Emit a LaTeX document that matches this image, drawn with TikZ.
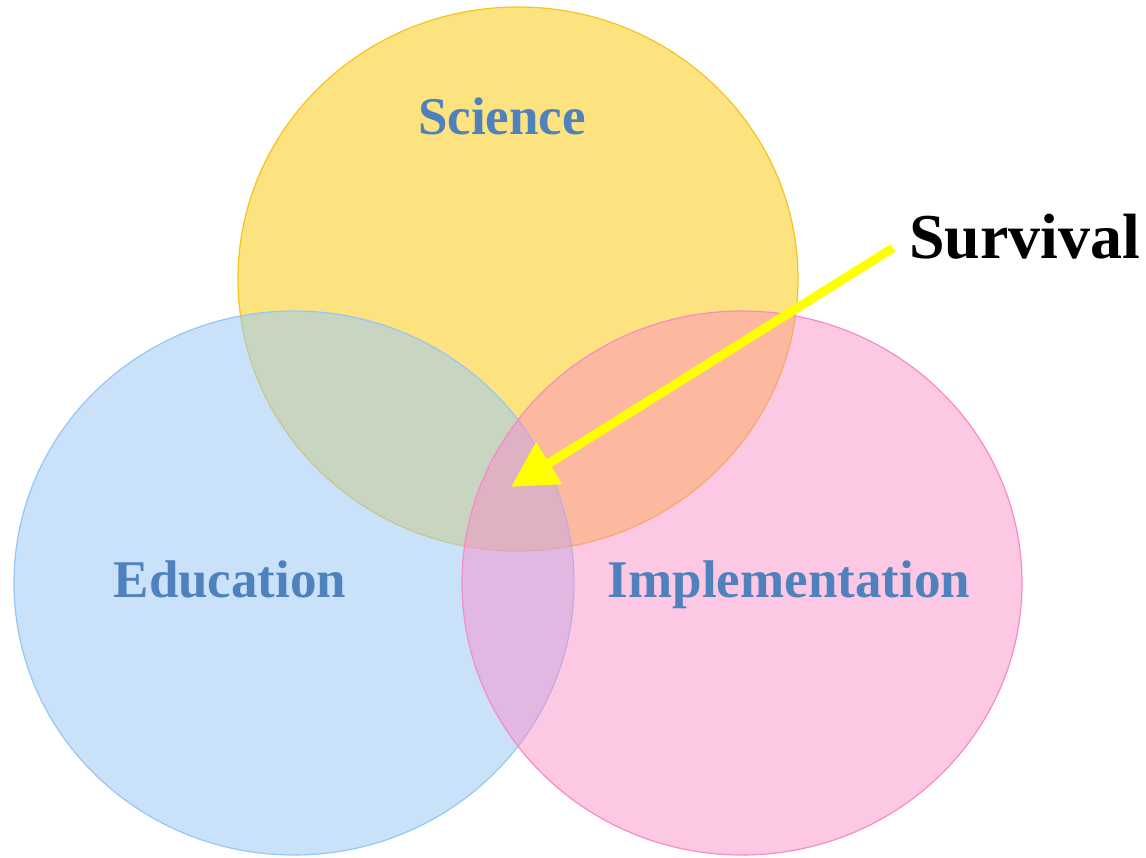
\documentclass[tikz,border=0pt]{standalone}
\usepackage{fontspec}
\setmainfont{Liberation Serif}
\usetikzlibrary{arrows.meta}
\definecolor{scifill}{RGB}{253,227,127}
\definecolor{sciline}{RGB}{245,196,30}
\definecolor{edufill}{RGB}{157,202,246}
\definecolor{eduline}{RGB}{150,198,245}
\definecolor{impfill}{RGB}{251,138,198}
\definecolor{impline}{RGB}{245,140,200}
\definecolor{labelblue}{RGB}{79,129,189}
\definecolor{arrowyellow}{RGB}{255,255,0}
\begin{document}
\begin{tikzpicture}[x=1pt,y=-1pt,
  setlabel/.style={font=\bfseries\fontsize{53}{60}\selectfont, text=labelblue, anchor=base},
  pointer/.style={draw=arrowyellow, line width=9pt,
    -{Triangle[length=45pt,width=47pt]}}]
  \useasboundingbox (0,0) rectangle (1146,857);
  % the three sets
  \fill[scifill] (518,279) ellipse [x radius=280, y radius=272];
  \draw[sciline, line width=1.2pt] (518,279) ellipse [x radius=280, y radius=272];
  \fill[edufill, fill opacity=0.55] (294,583) ellipse [x radius=280, y radius=272];
  \draw[eduline, line width=1.2pt] (294,583) ellipse [x radius=280, y radius=272];
  \fill[impfill, fill opacity=0.47] (742,583) ellipse [x radius=280, y radius=272];
  \draw[impline, line width=1.2pt] (742,583) ellipse [x radius=280, y radius=272];
  % set names
  \node[setlabel] (sci) at (502,134) {Science};
  \node[setlabel] (edu) at (230,597) {Education};
  \node[setlabel] (imp) at (789,597) {Implementation};
  % pointer to the common intersection
  \node[font=\bfseries\fontsize{64}{70}\selectfont, anchor=west, inner sep=0pt] (surv) at (909,237) {Survival};
  \coordinate (start) at (893,248);
  \coordinate (tip) at (511,487);
  \draw[pointer] (start) -- (tip);
\end{tikzpicture}
\end{document}
